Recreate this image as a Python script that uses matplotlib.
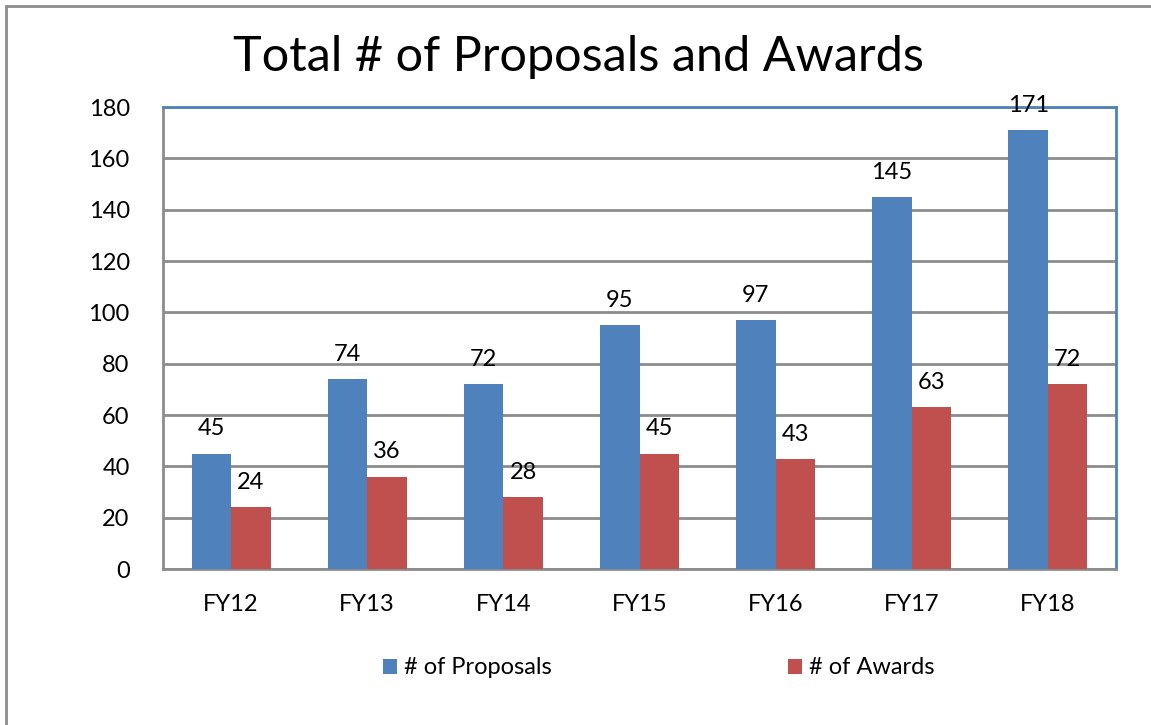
import matplotlib
matplotlib.use("Agg")
import matplotlib.pyplot as plt
import numpy as np
from matplotlib.patches import Rectangle

categories = ["FY12", "FY13", "FY14", "FY15", "FY16", "FY17", "FY18"]
proposals = [45, 74, 72, 95, 97, 145, 171]
awards = [24, 36, 28, 45, 43, 63, 72]
yticks = [0, 20, 40, 60, 80, 100, 120, 140, 160, 180]

plt.rcParams['font.family'] = ['Lato', 'DejaVu Sans']
blue = "#4F81BD"
red = "#C0504D"
grid = "#8C8C8C"

fig = plt.figure(figsize=(11.51, 7.25), dpi=100)
fig.patches.append(Rectangle((6/1151, -0.01), 1.0, 1 - 6/725 + 0.01,
                             transform=fig.transFigure, fill=False,
                             edgecolor="#8C8C8C", linewidth=2))
ax = fig.add_axes([163/1151, 156/725, 953/1151, 462/725])

x = np.arange(len(categories))
w = 0.29
ax.bar(x - w/2, proposals, w, color=blue, label="# of Proposals", zorder=3)
ax.bar(x + w/2, awards, w, color=red, label="# of Awards", zorder=3)

for xi, v in zip(x, proposals):
    ax.text(xi - w/2, v + 5.5, str(v), ha="center", va="bottom", fontsize=17, zorder=4)
for xi, v in zip(x, awards):
    ax.text(xi + w/2, v + 5.5, str(v), ha="center", va="bottom", fontsize=17, zorder=4)

ax.set_xlim(-0.5, len(categories) - 0.5)
ax.set_ylim(0, 180)
ax.set_yticks(yticks)
ax.set_yticklabels([str(t) for t in yticks], fontsize=17)
ax.set_xticks(x)
ax.set_xticklabels(categories, fontsize=17)
ax.tick_params(axis="both", length=0)
ax.tick_params(axis="y", pad=24)
ax.tick_params(axis="x", pad=18)
ax.yaxis.grid(True, color=grid, linewidth=2, zorder=1)
ax.set_axisbelow(True)
ax.spines["left"].set_color(grid)
ax.spines["bottom"].set_color(grid)
ax.spines["top"].set_color(blue)
ax.spines["right"].set_color(blue)
for s in ax.spines.values():
    s.set_linewidth(2)

fig.text(578/1151, 1 - 57/725, "Total # of Proposals and Awards", ha="center", va="center", fontsize=35)

handles, labels = ax.get_legend_handles_labels()
fig.legend(handles, labels, loc="center", bbox_to_anchor=(659/1151, 1 - 668/725), ncol=2,
           frameon=False, fontsize=17, handlelength=0.6, handleheight=0.6,
           handletextpad=0.3, columnspacing=10)

fig.savefig("out.png", dpi=100)
